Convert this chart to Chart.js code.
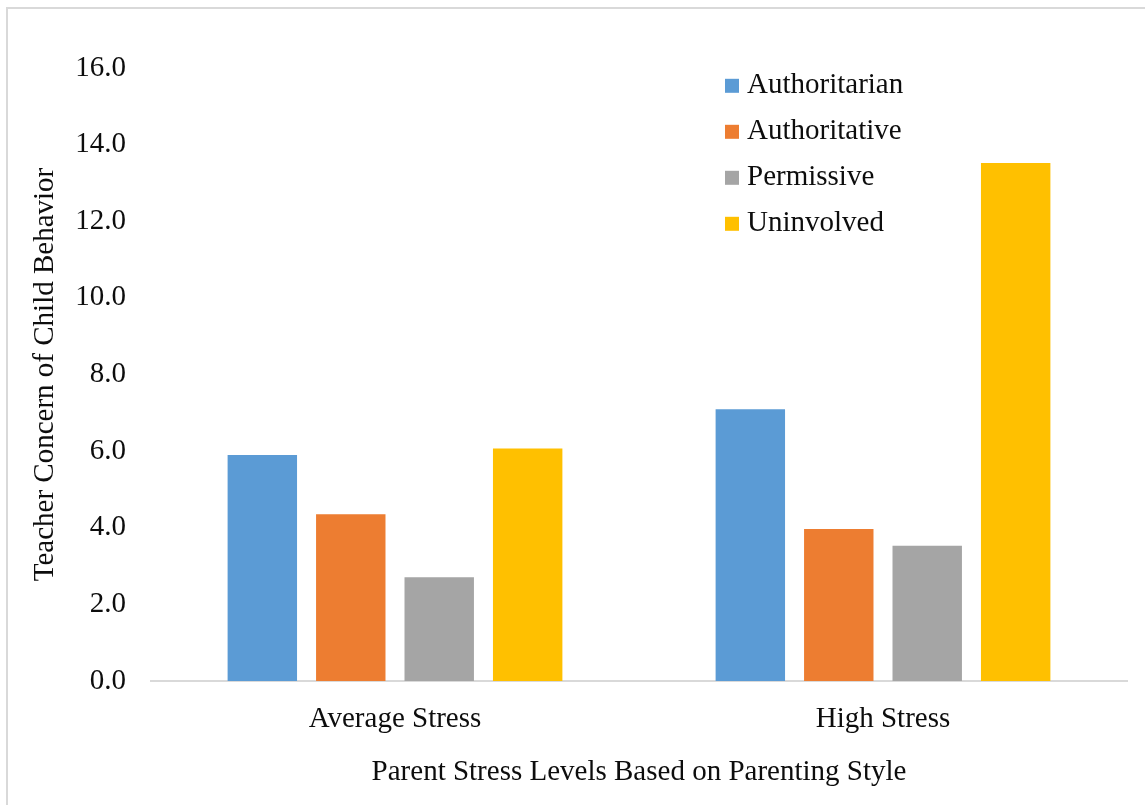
<!DOCTYPE html>
<html>
<head>
<meta charset="utf-8">
<title>Teacher Concern of Child Behavior by Parent Stress</title>
<script src="https://cdn.jsdelivr.net/npm/chart.js@4.4.1/dist/chart.umd.min.js"></script>
<style>
  html, body { margin: 0; padding: 0; background: #ffffff; }
  #wrap { position: relative; width: 1145px; height: 805px; }
</style>
</head>
<body>
<div id="wrap"><canvas id="chart" width="1145" height="805"></canvas></div>
<script>
// Stress level groups on the x axis
const categories = ['Average Stress', 'High Stress'];

// Parenting styles (one bar series each)
const styleNames = ['Authoritarian', 'Authoritative', 'Permissive', 'Uninvolved'];
const styleColors = ['#5B9BD5', '#ED7D31', '#A5A5A5', '#FFC000'];

// Mean teacher concern score per style, in category order
const authoritarian = [5.90, 7.09];
const authoritative = [4.35, 3.97];
const permissive    = [2.71, 3.53];
const uninvolved    = [6.07, 13.52];

// Value axis ticks
const yTicks = [0, 2, 4, 6, 8, 10, 12, 14, 16];

const seriesValues = [authoritarian, authoritative, permissive, uninvolved];

const FONT = "'Liberation Serif', 'Times New Roman', serif";
const TEXT = '#0d0d0d';

// Thin frame along the top and left edges
const framePlugin = {
  id: 'frame',
  beforeDraw(chart) {
    const ctx = chart.ctx;
    ctx.save();
    ctx.fillStyle = '#ffffff';
    ctx.fillRect(0, 0, chart.width, chart.height);
    ctx.fillStyle = '#d9d9d9';
    ctx.fillRect(6, 7, chart.width - 6, 2);
    ctx.fillRect(6, 7, 2, chart.height - 7);
    ctx.restore();
  }
};

// Vertical legend drawn inside the plot area
const insideLegend = {
  id: 'insideLegend',
  afterDraw(chart) {
    const ctx = chart.ctx;
    const x0 = 725, firstBaseline = 93.3, rowGap = 46, box = 14;
    ctx.save();
    ctx.font = '29px ' + FONT;
    ctx.textAlign = 'left';
    ctx.textBaseline = 'alphabetic';
    chart.data.datasets.forEach((ds, i) => {
      const base = firstBaseline + i * rowGap;
      ctx.fillStyle = ds.backgroundColor;
      ctx.fillRect(x0, base - 14.5, box, box);
      ctx.fillStyle = TEXT;
      ctx.fillText(ds.label, x0 + 22, base);
    });
    ctx.restore();
  }
};

const datasets = styleNames.map((name, i) => ({
  label: name,
  data: seriesValues[i],
  backgroundColor: styleColors[i],
  borderWidth: 0,
  barPercentage: 0.785,
  categoryPercentage: 0.725
}));

new Chart(document.getElementById('chart'), {
  type: 'bar',
  data: { labels: categories, datasets },
  options: {
    responsive: false,
    animation: false,
    devicePixelRatio: 1,
    layout: { padding: { top: 68, right: 18, bottom: 0, left: 0 } },
    plugins: {
      legend: { display: false },
      tooltip: { enabled: false }
    },
    scales: {
      x: {
        grid: { display: false, drawTicks: false },
        border: { display: true, color: '#d9d9d9', width: 2 },
        ticks: { color: TEXT, font: { family: FONT, size: 29 }, padding: 21 },
        title: {
          display: true,
          text: 'Parent Stress Levels Based on Parenting Style',
          color: TEXT,
          font: { family: FONT, size: 29 },
          padding: { top: 0, bottom: 15 }
        },
        afterFit(scale) { scale.height = 124; }
      },
      y: {
        min: yTicks[0],
        max: yTicks[yTicks.length - 1],
        afterBuildTicks(scale) { scale.ticks = yTicks.map(v => ({ value: v })); },
        grid: { display: false, drawTicks: false },
        border: { display: false },
        ticks: {
          color: TEXT,
          font: { family: FONT, size: 29 },
          padding: 25,
          callback: v => Number(v).toFixed(1)
        },
        title: {
          display: true,
          text: 'Teacher Concern of Child Behavior',
          color: TEXT,
          font: { family: FONT, size: 29 },
          padding: { top: 28, bottom: 0 }
        },
        afterFit(scale) { scale.width = 151; }
      }
    }
  },
  plugins: [framePlugin, insideLegend]
});
</script>
</body>
</html>
